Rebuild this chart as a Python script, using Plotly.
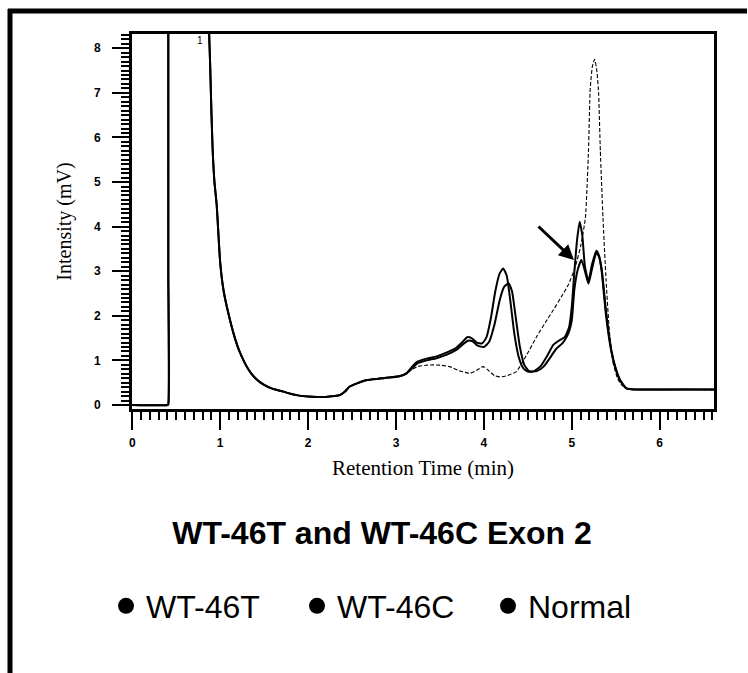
import plotly.graph_objects as go

# ---- data ----
front_t = [0.00, 0.40, 0.41, 0.41, 0.41, 0.41, 0.41, 0.86, 0.865, 0.875, 0.885, 0.90, 0.915,
           0.935, 0.96, 1.00, 1.04, 1.10, 1.16, 1.22, 1.32, 1.4, 1.5, 1.6, 1.72, 1.8, 1.9,
           2.0, 2.1, 2.2, 2.3, 2.36, 2.42, 2.47, 2.55, 2.67, 2.8, 2.95, 3.05, 3.12]
front_y = [0.00, 0.00, 0.02, 3.0, 6.0, 9.0, 12.0, 12.0, 9.5, 8.3, 7.7, 6.6, 5.7,
           5.0, 4.5, 3.2, 2.55, 2.0, 1.55, 1.2, 0.80, 0.60, 0.45, 0.36, 0.30, 0.25, 0.21,
           0.19, 0.18, 0.18, 0.20, 0.22, 0.30, 0.41, 0.48, 0.56, 0.59, 0.62, 0.65, 0.71]

wt46t_t = front_t + [3.18, 3.24, 3.35, 3.46, 3.58, 3.69, 3.76, 3.81, 3.86, 3.92, 3.98, 4.03,
                     4.08, 4.13, 4.18, 4.22, 4.26, 4.30, 4.35, 4.40, 4.45, 4.50, 4.57, 4.65,
                     4.72, 4.79, 4.86, 4.92, 4.97, 5.00, 5.03, 5.06, 5.09, 5.12, 5.15, 5.19,
                     5.23, 5.28, 5.31, 5.34, 5.39, 5.45, 5.50, 5.55, 5.62, 5.70, 6.00, 6.30, 6.62]
wt46t_y = front_y + [0.85, 0.97, 1.04, 1.09, 1.18, 1.29, 1.42, 1.52, 1.50, 1.40, 1.38, 1.52,
                     1.95, 2.55, 2.95, 3.06, 2.90, 2.35, 1.55, 1.05, 0.82, 0.75, 0.76, 0.88,
                     1.10, 1.35, 1.45, 1.52, 1.75, 2.20, 3.00, 3.70, 4.11, 3.80, 3.10, 2.78,
                     3.15, 3.46, 3.35, 3.00, 2.00, 1.20, 0.80, 0.55, 0.38, 0.35, 0.35, 0.35, 0.35]

wt46c_t = front_t + [3.18, 3.24, 3.35, 3.46, 3.58, 3.69, 3.76, 3.82, 3.87, 3.93, 4.00, 4.06,
                     4.12, 4.18, 4.23, 4.28, 4.32, 4.36, 4.41, 4.46, 4.52, 4.60, 4.68, 4.75,
                     4.82, 4.90, 4.96, 5.00, 5.03, 5.07, 5.11, 5.15, 5.19, 5.23, 5.28, 5.31,
                     5.34, 5.39, 5.45, 5.50, 5.55, 5.62, 5.70, 6.00, 6.30, 6.62]
wt46c_y = front_y + [0.82, 0.93, 1.00, 1.05, 1.13, 1.24, 1.36, 1.44, 1.43, 1.33, 1.30, 1.42,
                     1.80, 2.35, 2.65, 2.73, 2.55, 2.00, 1.30, 0.90, 0.75, 0.76, 0.86, 1.05,
                     1.25, 1.40, 1.60, 1.90, 2.60, 3.05, 3.25, 3.00, 2.72, 3.05, 3.42, 3.32,
                     3.05, 2.10, 1.23, 0.82, 0.56, 0.37, 0.35, 0.35, 0.35, 0.35]

normal_t = front_t + [3.24, 3.34, 3.43, 3.52, 3.61, 3.72, 3.84, 3.92, 3.99, 4.05, 4.12, 4.18,
                      4.27, 4.37, 4.48, 4.60, 4.70, 4.79, 4.88, 4.96, 5.04, 5.10, 5.155, 5.19,
                      5.21, 5.235, 5.26, 5.285, 5.305, 5.325, 5.355, 5.39, 5.43, 5.47, 5.52,
                      5.57, 5.63, 5.70, 6.00, 6.30, 6.62]
normal_y = front_y + [0.86, 0.89, 0.90, 0.89, 0.86, 0.77, 0.71, 0.78, 0.86, 0.78, 0.66, 0.63,
                      0.66, 0.75, 1.10, 1.53, 1.85, 2.13, 2.42, 2.69, 3.10, 3.55, 4.20, 5.70,
                      7.10, 7.60, 7.75, 7.50, 7.00, 5.70, 4.20, 2.80, 1.60, 0.95, 0.60,
                      0.44, 0.37, 0.35, 0.34, 0.35, 0.34]

series_names = ["WT-46T", "WT-46C", "Normal"]
x_ticks = [0, 1, 2, 3, 4, 5, 6]
y_ticks = [0, 1, 2, 3, 4, 5, 6, 7, 8]
x_half_ticks = [0.5, 1.5, 2.5, 3.5, 4.5, 5.5, 6.5]
y_half_ticks = [0.5, 1.5, 2.5, 3.5, 4.5, 5.5, 6.5, 7.5]

X_RANGE = [-0.003, 6.618]
Y_RANGE = [-0.09, 8.32]

fig = go.Figure()

fig.add_trace(go.Scatter(x=wt46t_t, y=wt46t_y, mode="lines", name=series_names[0],
                         legendgroup="a", showlegend=False,
                         line=dict(color="black", width=2, shape="spline", smoothing=0.5)))
fig.add_trace(go.Scatter(x=wt46c_t, y=wt46c_y, mode="lines", name=series_names[1],
                         legendgroup="b", showlegend=False,
                         line=dict(color="black", width=2, shape="spline", smoothing=0.5)))
fig.add_trace(go.Scatter(x=normal_t, y=normal_y, mode="lines", name=series_names[2],
                         legendgroup="c", showlegend=False,
                         line=dict(color="black", width=1.1, dash="4px,2px",
                                   shape="spline", smoothing=0.5)))

# legend entries (black dots)
for nm, grp in zip(series_names, ["a", "b", "c"]):
    fig.add_trace(go.Scatter(x=[None], y=[None], mode="markers", name=nm, legendgroup=grp,
                             marker=dict(color="black", size=16), showlegend=True))

tickfont = dict(family="Liberation Sans", size=12, color="black", weight="bold")

def px_to_paper_x(px):
    return (px - 132) / 582

def px_to_paper_y(py):
    return (409 - py) / 375

fig.update_layout(
    width=748, height=673,
    margin=dict(l=132, r=34, t=34, b=264, pad=0),
    paper_bgcolor="white", plot_bgcolor="white",
    showlegend=True,
    title=dict(text="<b>WT-46T and WT-46C Exon 2</b>",
               font=dict(family="Liberation Sans", size=32, color="black"),
               xref="container", x=382 / 748, xanchor="center",
               yref="container", y=1 - 533 / 673, yanchor="middle"),
    legend=dict(orientation="h", x=(106 - 132) / 582, xanchor="left",
                y=(409 - 606) / 375, yanchor="middle",
                font=dict(family="Liberation Sans", size=32, color="black"),
                itemsizing="trace", entrywidth=146, bgcolor="rgba(0,0,0,0)",
                traceorder="normal"),
    xaxis=dict(range=X_RANGE, showline=True, linewidth=3, linecolor="black", mirror=True,
               ticks="outside", ticklen=18, tickwidth=2, tickcolor="black",
               tickvals=x_ticks, ticktext=[str(v) for v in x_ticks],
               minor=dict(dtick=0.1, tick0=0, ticks="outside", ticklen=8, tickwidth=1.5,
                          tickcolor="black"),
               tickfont=tickfont, ticklabelstandoff=3,
               showgrid=False, zeroline=False,
               title=dict(text="Retention Time (min)" + "\u00a0" * 8,
                          font=dict(family="Liberation Serif", size=21, color="black"),
                          standoff=11)),
    yaxis=dict(range=Y_RANGE, showline=True, linewidth=3, linecolor="black", mirror=True,
               ticks="outside", ticklen=17, tickwidth=2, tickcolor="black",
               tickvals=y_ticks, ticktext=[str(v) for v in y_ticks],
               minor=dict(dtick=0.1, tick0=0, ticks="outside", ticklen=8, tickwidth=1.5,
                          tickcolor="black"),
               tickfont=tickfont, ticklabelstandoff=9,
               showgrid=False, zeroline=False,
               title=dict(text="Intensity (mV)",
                          font=dict(family="Liberation Serif", size=20, color="black"),
                          standoff=17)),
    xaxis2=dict(overlaying="x", anchor="y", side="bottom", range=X_RANGE,
                tickvals=x_half_ticks, ticks="outside", ticklen=12, tickwidth=1.5,
                tickcolor="black", showticklabels=False, showline=False,
                showgrid=False, zeroline=False),
    yaxis2=dict(overlaying="y", anchor="x", side="left", range=Y_RANGE,
                tickvals=y_half_ticks, ticks="outside", ticklen=12, tickwidth=1.5,
                tickcolor="black", showticklabels=False, showline=False,
                showgrid=False, zeroline=False),
    annotations=[
        dict(x=5.025, y=3.25, xref="x", yref="y", text="", showarrow=True,
             ax=-37, ay=-35, arrowhead=2, arrowsize=1, arrowwidth=3, arrowcolor="black"),
        dict(x=0.77, y=8.18, xref="x", yref="y", text="1", showarrow=False,
             font=dict(family="Liberation Sans", size=10, color="black")),
    ],
    shapes=[
        dict(type="line", xref="paper", yref="paper",
             x0=px_to_paper_x(10), x1=px_to_paper_x(10),
             y0=px_to_paper_y(673), y1=px_to_paper_y(9),
             line=dict(color="black", width=5)),
        dict(type="line", xref="paper", yref="paper",
             x0=px_to_paper_x(8), x1=px_to_paper_x(747),
             y0=px_to_paper_y(11), y1=px_to_paper_y(11),
             line=dict(color="black", width=5)),
    ],
)

fig.write_html("out.html")
